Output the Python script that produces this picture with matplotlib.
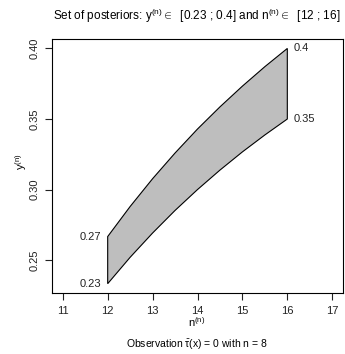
import numpy as np
import matplotlib
matplotlib.use("Agg")
import matplotlib.pyplot as plt

plt.rcParams['font.family'] = ['Liberation Sans', 'DejaVu Sans']
plt.rcParams['mathtext.fontset'] = 'custom'
plt.rcParams['mathtext.rm'] = 'Liberation Sans'
plt.rcParams['mathtext.it'] = 'Liberation Sans'

# posterior set boundaries
n_post = [12, 12.5, 13, 13.5, 14, 14.5, 15, 15.5, 16]
y_upper = [0.2667, 0.2880, 0.3077, 0.3259, 0.3429, 0.3586, 0.3733, 0.3871, 0.4000]
y_lower = [0.2333, 0.2520, 0.2692, 0.2852, 0.3000, 0.3138, 0.3267, 0.3387, 0.3500]
x_ticks = [11, 12, 13, 14, 15, 16, 17]
y_ticks = [0.25, 0.30, 0.35, 0.40]

W, H = 345, 354
fig = plt.figure(figsize=(W / 100, H / 100), dpi=100)
ax = fig.add_axes([52 / W, (H - 293) / H, 291 / W, 254 / H])

xs = np.concatenate([n_post, n_post[::-1]])
ys = np.concatenate([y_upper, y_lower[::-1]])
ax.fill(xs, ys, facecolor='#bebebe', edgecolor='black', linewidth=0.8)

lab = dict(fontsize=8, va='center', color='#222222')
ax.text(n_post[0] - 0.15, y_upper[0], '%.2f' % y_upper[0], ha='right', **lab)
ax.text(n_post[0] - 0.15, y_lower[0], '%.2f' % y_lower[0], ha='right', **lab)
ax.text(n_post[-1] + 0.15, y_upper[-1], '%g' % round(y_upper[-1], 2), ha='left', **lab)
ax.text(n_post[-1] + 0.15, y_lower[-1], '%g' % round(y_lower[-1], 2), ha='left', **lab)

ax.set_xlim(10.76, 17.24)
ax.set_ylim(0.2267, 0.4067)
ax.set_xticks(x_ticks)
ax.set_yticks(y_ticks)
ax.set_yticklabels(['%.2f' % v for v in y_ticks], rotation=90, va='center')
ax.tick_params(direction='out', length=5, width=0.8, labelsize=8, pad=4,
               colors='#222222')
for s in ax.spines.values():
    s.set_linewidth(0.8)

fig.text(197 / W, 1 - 16 / H,
         r'Set of posteriors: y$^{(n)}$$\in$  [0.23 ; 0.4] and n$^{(n)}$$\in$  [12 ; 16]',
         ha='center', va='center', fontsize=8.5)
fig.text(197 / W, 1 - 322 / H, r'n$^{(n)}$', ha='center', va='center', fontsize=8)
fig.text(21 / W, 1 - 162 / H, r'y$^{(n)}$', ha='center', va='center', fontsize=8,
         rotation=90)
fig.text(197 / W, 1 - 345 / H, r'Observation $\bar{\tau}$(x) = 0 with n = 8',
         ha='center', va='center', fontsize=7.5)

fig.savefig('out.png', dpi=100)
